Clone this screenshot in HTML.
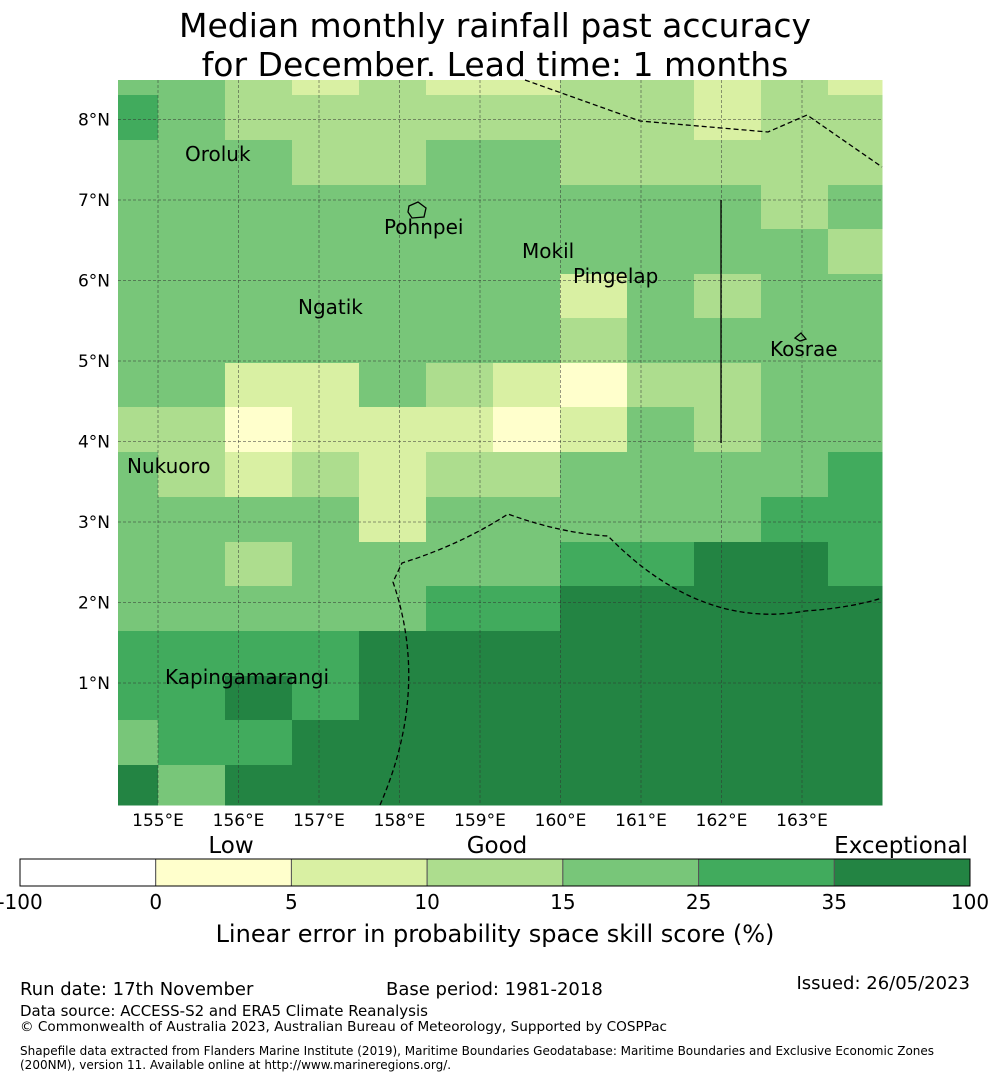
<!DOCTYPE html>
<html><head><meta charset="utf-8"><style>
body{margin:0;background:#fff;font-family:"Liberation Sans","DejaVu Sans",sans-serif}
svg text{font-family:"DejaVu Sans","Liberation Sans",sans-serif}
</style></head><body>
<svg id="chart" width="990" height="1080" viewBox="0 0 990 1080" xmlns="http://www.w3.org/2000/svg">
<text x="495" y="37" font-size="33" text-anchor="middle">Median monthly rainfall past accuracy</text>
<text x="495" y="76" font-size="33" text-anchor="middle">for December. Lead time: 1 months</text>
<g id="cells"></g>
<g id="grid"></g>
<g id="overlays" fill="none" stroke="#000" stroke-width="1.3">
<path stroke-dasharray="5,3" d="M525 80 L640 121 L768 132 L807 115 L882 167"/>
<path stroke-dasharray="5,3" d="M380 805 Q430 690 393 582 L402 563 Q460 545 508 514 Q560 533 608 536 Q700 630 805 611 Q850 608 882 598"/>
<line x1="721" y1="200" x2="721" y2="443"/>
<path d="M409 206 L418 202 L426 208 L424 217 L412 218 L408 212 Z"/>
<path d="M795 338 L801 333 L806 339 L800 341 Z"/>
</g>
<g id="labels" font-size="20" fill="#000"></g>
<g id="axis" font-size="17"></g>
<g id="colorbar"></g>
<text x="231" y="853" font-size="23" text-anchor="middle">Low</text>
<text x="497" y="853" font-size="23" text-anchor="middle">Good</text>
<text x="901" y="853" font-size="23" text-anchor="middle">Exceptional</text>
<text x="495" y="942" font-size="24" text-anchor="middle">Linear error in probability space skill score (%)</text>
<text x="20" y="995" font-size="18">Run date: 17th November</text>
<text x="386" y="995" font-size="18">Base period: 1981-2018</text>
<text x="970" y="989" font-size="18" text-anchor="end">Issued: 26/05/2023</text>
<text x="20" y="1016" font-size="15">Data source: ACCESS-S2 and ERA5 Climate Reanalysis</text>
<text x="20" y="1031" font-size="13.6">© Commonwealth of Australia 2023, Australian Bureau of Meteorology, Supported by COSPPac</text>
<text x="20" y="1055" font-size="12">Shapefile data extracted from Flanders Marine Institute (2019), Maritime Boundaries Geodatabase: Maritime Boundaries and Exclusive Economic Zones</text>
<text x="20" y="1069" font-size="12">(200NM), version 11. Available online at http://www.marineregions.org/.</text>
</svg>
<script>
const colEdges=[118,158,225,292,359,426,493,560,627,694,761,828,882];
const rowEdges=[80,95,140,185,229,274,318,363,407,452,497,542,586,631,676,720,765,805];
const levelColors=["#ffffff","#ffffcc","#d9f0a3","#addd8e","#78c679","#41ab5d","#238443"];
const grid=[
[4,4,3,2,3,2,2,3,3,2,3,2],
[5,4,3,3,3,3,3,3,3,2,3,3],
[4,4,4,3,3,4,4,3,3,3,3,3],
[4,4,4,4,4,4,4,4,4,4,3,4],
[4,4,4,4,4,4,4,4,4,4,4,3],
[4,4,4,4,4,4,4,2,4,3,4,4],
[4,4,4,4,4,4,4,3,4,4,4,4],
[4,4,2,2,4,3,2,1,3,3,4,4],
[3,3,1,2,2,2,1,2,4,3,4,4],
[4,3,2,3,2,3,3,4,4,4,4,5],
[4,4,4,4,2,4,4,4,4,4,5,5],
[4,4,3,4,4,4,4,5,5,6,6,5],
[4,4,4,4,4,5,5,6,6,6,6,6],
[5,5,5,5,6,6,6,6,6,6,6,6],
[5,5,6,5,6,6,6,6,6,6,6,6],
[4,5,5,6,6,6,6,6,6,6,6,6],
[6,4,6,6,6,6,6,6,6,6,6,6]];
const lonTicks=[155,156,157,158,159,160,161,162,163];
const latTicks=[1,2,3,4,5,6,7,8];
const places=["Oroluk","Pohnpei","Mokil","Pingelap","Ngatik","Kosrae","Nukuoro","Kapingamarangi"];
const placeLon=[155.335,157.807,159.522,160.155,156.739,162.603,154.615,155.087];
const placeLat=[7.571,6.665,6.366,6.056,5.671,5.149,3.696,1.075];
const cbEdges=["-100","0","5","10","15","25","35","100"];
const NS="http://www.w3.org/2000/svg";
const xLon=l=>158+(l-155)*80.5;
const yLat=l=>683-(l-1)*80.5;
function mk(t,a,p){const e=document.createElementNS(NS,t);for(const k in a)e.setAttribute(k,a[k]);p.appendChild(e);return e;}
const cells=document.getElementById('cells');
grid.forEach((row,r)=>row.forEach((v,c)=>{
 const e=mk('rect',{x:colEdges[c],y:rowEdges[r],width:colEdges[c+1]-colEdges[c]+0.5,height:rowEdges[r+1]-rowEdges[r]+0.5,fill:levelColors[v]},cells);
 
 
}));
const g=document.getElementById('grid'),ax=document.getElementById('axis');
lonTicks.forEach(l=>{const x=xLon(l);
 const ln=mk('line',{x1:x,y1:80,x2:x,y2:805,stroke:'#333','stroke-width':0.5,'stroke-dasharray':'3,2'},g);
 
 const t=mk('text',{x:x,y:826,'text-anchor':'middle'},ax);t.textContent=l+'°E';
 });
latTicks.forEach(l=>{const y=yLat(l);
 const ln=mk('line',{x1:118,y1:y,x2:882,y2:y,stroke:'#333','stroke-width':0.5,'stroke-dasharray':'3,2'},g);
 
 const t=mk('text',{x:110,y:y+6,'text-anchor':'end'},ax);t.textContent=l+'°N';
 });
const lb=document.getElementById('labels');
places.forEach((p,i)=>{const t=mk('text',{x:xLon(placeLon[i]),y:yLat(placeLat[i])+7,'text-anchor':'start'},lb);t.textContent=p;
 });
const cb=document.getElementById('colorbar');const w=950/7;
for(let i=0;i<7;i++){const r=mk('rect',{x:20+i*w,y:859,width:w,height:27,fill:levelColors[i],stroke:'#555','stroke-width':1},cb);
 }
cbEdges.forEach((s,i)=>{const t=mk('text',{x:20+i*w,y:909,'text-anchor':'middle','font-size':20},cb);t.textContent=s;
 });
const f=mk('rect',{x:20,y:859,width:950,height:27,fill:'none',stroke:'#000','stroke-width':1},cb);

</script>
</body></html>
